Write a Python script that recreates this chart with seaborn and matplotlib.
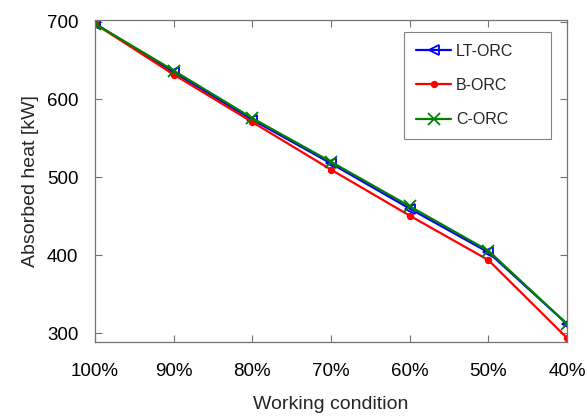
import matplotlib
matplotlib.use("Agg")
import matplotlib.pyplot as plt
import seaborn as sns
import pandas as pd

conditions = [100, 90, 80, 70, 60, 50, 40]
tick_labels = ["100%", "90%", "80%", "70%", "60%", "50%", "40%"]
lt_orc = [697, 635, 574, 518, 460, 404, 312]
b_orc = [697, 632, 571, 510, 451, 394, 294]
c_orc = [697, 637, 576, 520, 463, 406, 312]

sns.set_theme(style="white")
plt.rcParams["font.family"] = ["Liberation Sans", "DejaVu Sans"]

fig = plt.figure(figsize=(5.87, 4.16), dpi=100)
ax = fig.add_axes([0.162, 0.178, 0.804, 0.774])

series = [
    ("LT-ORC", lt_orc, (0, 0, 1), "<", 7, "none"),
    ("B-ORC", b_orc, (1, 0, 0), ".", 8, None),
    ("C-ORC", c_orc, (0, 0.5, 0), "x", 9, None),
]
for name, vals, col, mk, ms, mfc in series:
    df = pd.DataFrame({"cond": conditions, "val": vals})
    kw = dict(markerfacecolor=mfc) if mfc else {}
    sns.lineplot(data=df, x="cond", y="val", ax=ax, color=col, marker=mk,
                 markersize=ms, linewidth=1.6, label=name,
                 markeredgecolor=col, markeredgewidth=1.3, **kw)

ax.set_xlim(100, 40)
ax.set_ylim(289, 702)
ax.set_xticks(conditions)
ax.set_xticklabels(tick_labels)
ax.set_yticks([300, 400, 500, 600, 700])
ax.tick_params(direction="in", length=5, width=0.8, color="0.45",
               labelsize=13.5, top=True, right=True, bottom=True, left=True,
               labelcolor="black")
ax.tick_params(axis="x", pad=15)
ax.tick_params(axis="y", pad=12)
for s in ax.spines.values():
    s.set_color("0.45")
    s.set_linewidth(0.9)
ax.set_xlabel("Working condition", fontsize=14, labelpad=12)
ax.set_ylabel("Absorbed heat [kW]", fontsize=14, labelpad=6)
ax.grid(False)

leg = ax.legend(loc="upper right", bbox_to_anchor=(0.655, 0.652, 0.311, 0.311),
                mode="expand", borderaxespad=0, fontsize=11.5,
                frameon=True, fancybox=False, edgecolor="0.4",
                handlelength=2.2, borderpad=0.75, labelspacing=1.2,
                handletextpad=0.3)
leg.get_frame().set_linewidth(0.8)

fig.savefig("out.png", dpi=100)
